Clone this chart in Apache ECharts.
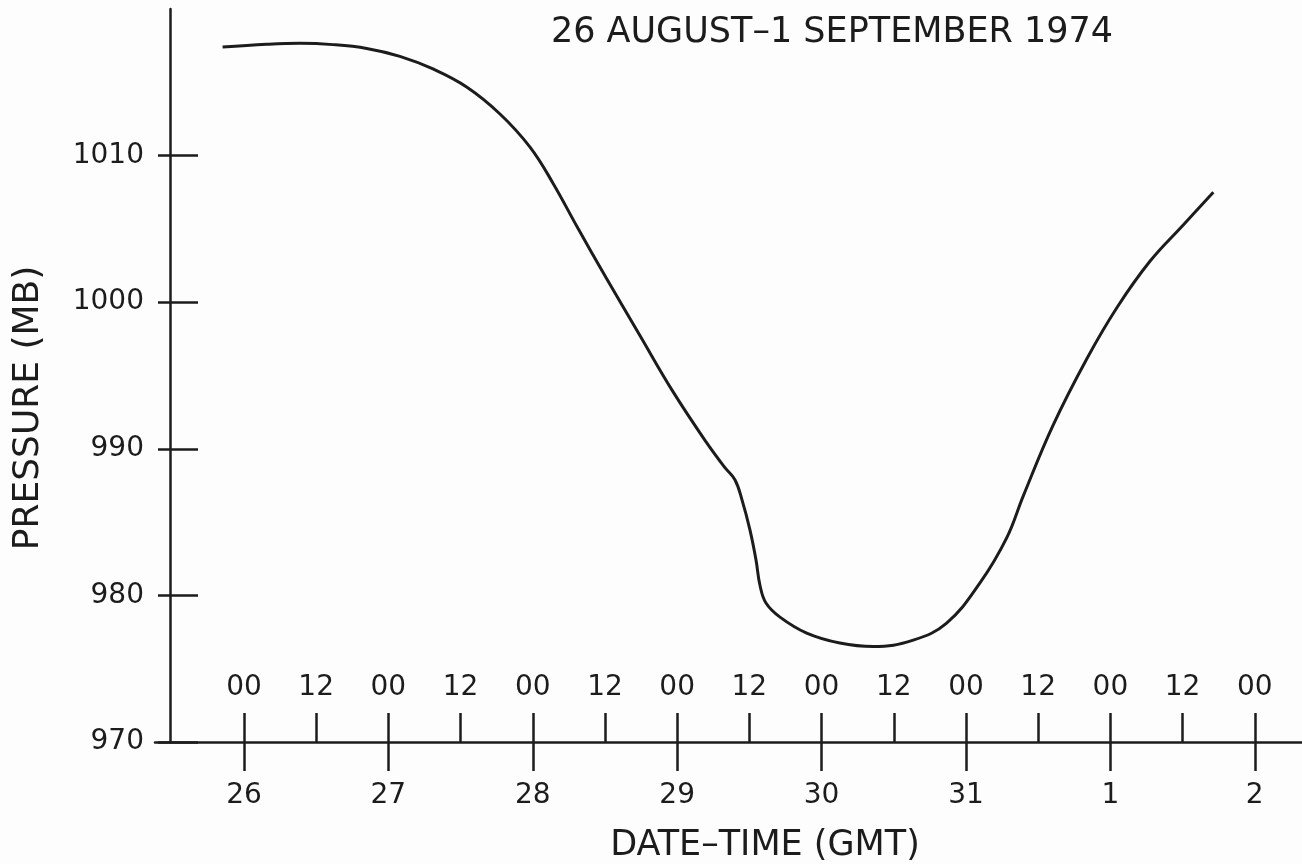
<!DOCTYPE html>
<html>
<head>
<meta charset="utf-8">
<script src="https://cdn.jsdelivr.net/npm/echarts@6/dist/echarts.min.js"></script>
<style>
  html, body { margin: 0; padding: 0; background: #fdfdfd; }
  #chart { width: 1302px; height: 864px; }
</style>
</head>
<body>
<div id="chart"></div>
<script>
// Time in days after 26 August 1974 00 GMT
const timeDays = [-0.148, 0.157, 0.388, 0.616, 0.850, 1.080, 1.309, 1.542, 1.773, 1.981,
  2.140, 2.313, 2.507, 2.742, 2.971, 3.199, 3.331, 3.400, 3.449, 3.504,
  3.546, 3.573, 3.615, 3.712, 3.897, 4.127, 4.358, 4.635, 4.866, 5.097,
  5.282, 5.397, 5.602, 5.838, 6.046, 6.274, 6.503, 6.713];
// Pressure (mb)
const pressureMb = [1017.40, 1017.59, 1017.66, 1017.57, 1017.31, 1016.77, 1015.91, 1014.68, 1012.84, 1010.58,
  1008.12, 1005.04, 1001.69, 997.73, 993.90, 990.49, 988.71, 987.89, 986.52, 984.47,
  982.42, 980.71, 979.48, 978.52, 977.43, 976.75, 976.51, 976.95, 978.11, 980.85,
  983.92, 986.79, 991.58, 996.16, 999.64, 1002.79, 1005.25, 1007.50];

const hourTicks = [0, 0.5, 1, 1.5, 2, 2.5, 3, 3.5, 4, 4.5, 5, 5.5, 6, 6.5, 7];
const hourLabels = ['00', '12', '00', '12', '00', '12', '00', '12', '00', '12', '00', '12', '00', '12', '00'];
const dayTicks = [0, 1, 2, 3, 4, 5, 6, 7];
const dayLabels = ['26', '27', '28', '29', '30', '31', '1', '2'];
const pressureTicks = [970, 980, 990, 1000, 1010];

const titleText = '26 AUGUST\u20131 SEPTEMBER 1974';
const xName = 'DATE\u2013TIME (GMT)';
const yName = 'PRESSURE (MB)';

const FONT = '"DejaVu Sans", sans-serif';
const INK = '#1c1c1c';

const chart = echarts.init(document.getElementById('chart'), null, { renderer: 'canvas' });

const xMin = -0.616, xMax = 7.327;

chart.setOption({
  backgroundColor: '#fdfdfd',
  animation: false,
  title: {
    text: titleText,
    left: 827, top: 10,
    textAlign: 'center',
    textStyle: { fontFamily: FONT, fontSize: 35, fontWeight: 'normal', color: INK }
  },
  grid: { left: 155, right: 0, top: 9, bottom: 122, outerBoundsMode: 'none', containLabel: false },
  xAxis: [
    {
      type: 'value', position: 'bottom', min: xMin, max: xMax,
      splitLine: { show: false },
      axisLine: { show: true, onZero: false, lineStyle: { color: INK, width: 2.5 } },
      axisTick: { show: true, inside: true, length: 29, customValues: hourTicks, lineStyle: { color: INK, width: 2.5 } },
      axisLabel: {
        show: true, inside: true, margin: 40, customValues: hourTicks,
        fontFamily: FONT, fontSize: 28, color: INK,
        formatter: v => hourLabels[hourTicks.indexOf(v)]
      }
    },
    {
      type: 'value', position: 'bottom', min: xMin, max: xMax,
      splitLine: { show: false },
      axisLine: { show: false, onZero: false },
      axisTick: { show: true, inside: false, length: 29, customValues: dayTicks, lineStyle: { color: INK, width: 2.5 } },
      axisLabel: {
        show: true, inside: false, margin: 40, customValues: dayTicks,
        fontFamily: FONT, fontSize: 28, color: INK,
        formatter: v => dayLabels[dayTicks.indexOf(v)]
      }
    }
  ],
  yAxis: [
    {
      type: 'value', position: 'left', offset: -15, min: 970, max: 1020, interval: 10,
      splitLine: { show: false },
      axisLine: { show: true, onZero: false, lineStyle: { color: INK, width: 2.5 } },
      axisTick: { show: true, inside: false, length: 12, customValues: pressureTicks, lineStyle: { color: INK, width: 2.5 } },
      axisLabel: {
        show: true, margin: 26, customValues: pressureTicks,
        fontFamily: FONT, fontSize: 28, color: INK,
        formatter: v => String(v)
      }
    },
    {
      type: 'value', position: 'left', offset: -15, min: 970, max: 1020, interval: 10,
      splitLine: { show: false },
      axisLine: { show: false, onZero: false },
      axisTick: { show: true, inside: true, length: 28, customValues: pressureTicks, lineStyle: { color: INK, width: 2.5 } },
      axisLabel: { show: false }
    }
  ],
  graphic: [
    {
      type: 'text', x: 29, y: 408, rotation: Math.PI / 2,
      style: { text: yName, align: 'center', verticalAlign: 'middle', font: '36px "DejaVu Sans", sans-serif', fill: INK }
    },
    {
      type: 'text', x: 765, y: 846,
      style: { text: xName, align: 'center', verticalAlign: 'middle', font: '35px "DejaVu Sans", sans-serif', fill: INK }
    }
  ],
  series: [
    {
      type: 'line',
      xAxisIndex: 0, yAxisIndex: 0,
      data: timeDays.map((t, i) => [t, pressureMb[i]]),
      showSymbol: false,
      smooth: 0.4,
      lineStyle: { color: INK, width: 3 },
      clip: true
    }
  ]
});
</script>
</body>
</html>
